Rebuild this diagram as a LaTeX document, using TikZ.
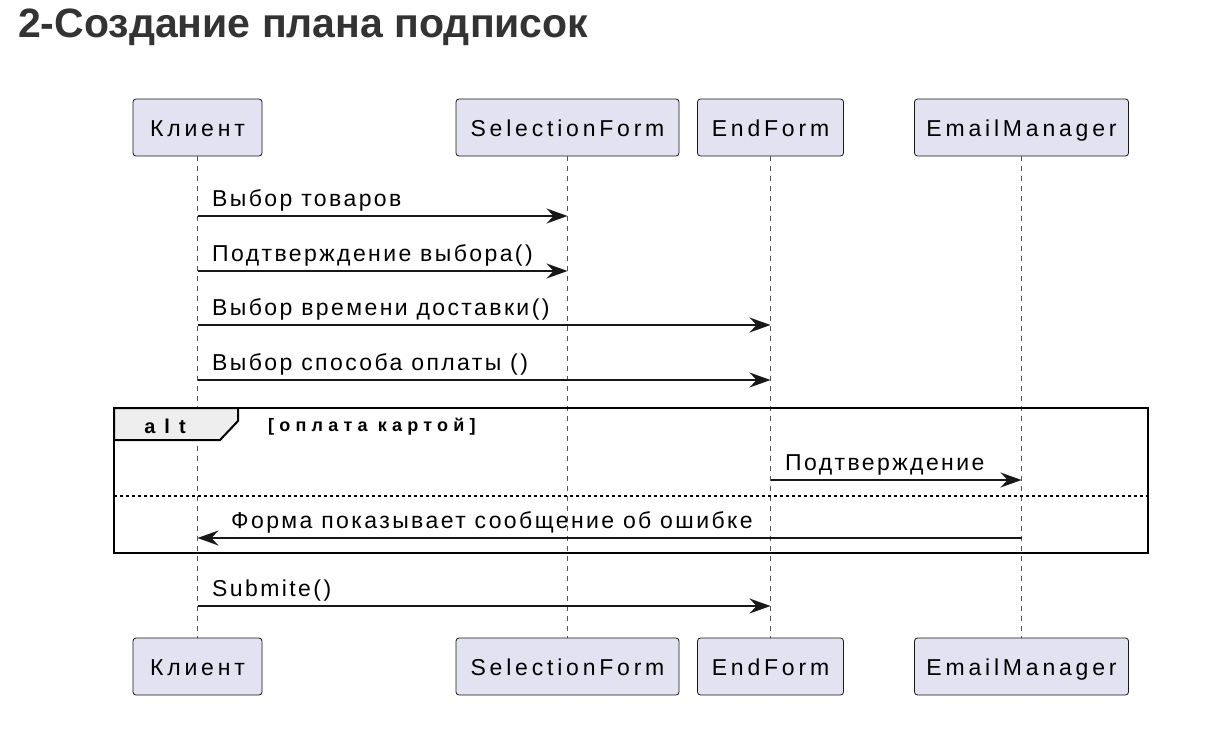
\documentclass[tikz,border=0pt]{standalone}
\usepackage{fontspec}
\setmainfont{Liberation Sans}
\usetikzlibrary{arrows.meta}
\definecolor{partfill}{HTML}{E2E2F0}
\definecolor{lineclr}{HTML}{181818}
\definecolor{lifeclr}{HTML}{555555}
\definecolor{titleclr}{HTML}{333333}
\definecolor{tabfill}{HTML}{EEEEEE}
\newcommand{\lblfont}{\fontsize{23}{27}\selectfont\addfontfeature{LetterSpace=10.5}}
\newcommand{\partfont}{\fontsize{23}{27}\selectfont\addfontfeature{LetterSpace=16.5}}
\newcommand{\boldlbl}{\fontsize{18}{21}\selectfont\bfseries\addfontfeature{LetterSpace=29}}
\newcommand{\altfont}{\fontsize{20}{24}\selectfont\bfseries\addfontfeature{LetterSpace=45}}
\begin{document}
\begin{tikzpicture}[x=1pt,y=-1pt,
  part/.style={draw=lineclr, fill=partfill, rounded corners=3pt, line width=0.8pt,
    minimum height=57pt, inner sep=0pt, text height=20pt, text depth=3pt, font=\partfont, text=black},
  lifeline/.style={draw=lifeclr, line width=1.2pt, dash pattern=on 5pt off 5pt},
  msg/.style={draw=lineclr, line width=1.5pt, -{Stealth[length=21pt, width=15pt, inset=7pt]}},
  lbl/.style={anchor=base west, inner sep=0pt, font=\lblfont, text=black},
  frame/.style={draw=black, line width=2.6pt}
]
\useasboundingbox (0,0) rectangle (1232,755);
\fill[white] (0,0) rectangle (1232,755);

% title
\node[anchor=base west, inner sep=0pt, font=\fontsize{41}{45}\selectfont\bfseries, text=titleclr] (title) at (18,37) {2-Создание плана подписок};

% participants
\node[part, minimum width=129pt] (kt) at (197.5,127.5) {Клиент};
\node[part, minimum width=223pt] (st) at (567.5,127.5) {SelectionForm};
\node[part, minimum width=146pt] (et) at (770.5,127.5) {EndForm};
\node[part, minimum width=214pt] (mt) at (1021.5,127.5) {EmailManager};

% lifelines
\draw[lifeline] (kt.south) -- (197.5,638);
\draw[lifeline] (st.south) -- (567.5,638);
\draw[lifeline] (et.south) -- (770.5,638);
\draw[lifeline] (mt.south) -- (1021.5,638);

\node[part, minimum width=129pt] (kb) at (197.5,666.5) {Клиент};
\node[part, minimum width=223pt] (sb) at (567.5,666.5) {SelectionForm};
\node[part, minimum width=146pt] (eb) at (770.5,666.5) {EndForm};
\node[part, minimum width=214pt] (mb) at (1021.5,666.5) {EmailManager};

% messages
\node[lbl] (l1) at (212,206) {Выбор товаров};
\draw[msg] (kt.south |- 0,216) -- (st.south |- 0,216);
\node[lbl] (l2) at (212,261) {Подтверждение выбора()};
\draw[msg] (kt.south |- 0,271) -- (st.south |- 0,271);
\node[lbl] (l3) at (212,315) {Выбор времени доставки()};
\draw[msg] (kt.south |- 0,325) -- (et.south |- 0,325);
\node[lbl] (l4) at (212,370) {Выбор способа оплаты ()};
\draw[msg] (kt.south |- 0,380) -- (et.south |- 0,380);

% alt frame
\draw[frame] (114,408) rectangle (1148,553);
\filldraw[fill=tabfill, draw=black, line width=2pt] (114,408) -- (238,408) -- (238,421) -- (220,440) -- (114,440) -- cycle;
\node[anchor=base, inner sep=0pt, font=\altfont, text=black] (alt) at (165,433) {alt};
\node[anchor=base west, inner sep=0pt, font=\boldlbl, text=black] (cond) at (268,431) {[оплата картой]};
\draw[draw=black, line width=1.4pt, dash pattern=on 3pt off 3pt] (114,496) -- (1148,496);

\node[lbl] (l5) at (785,470) {Подтверждение};
\draw[msg] (et.south |- 0,480) -- (mt.south |- 0,480);
\node[lbl] (l6) at (231,528) {Форма показывает сообщение об ошибке};
\draw[msg] (mt.south |- 0,538) -- (kt.south |- 0,538);

\node[lbl] (l7) at (212,596) {Submite()};
\draw[msg] (kt.south |- 0,606) -- (et.south |- 0,606);
\end{tikzpicture}
\end{document}
